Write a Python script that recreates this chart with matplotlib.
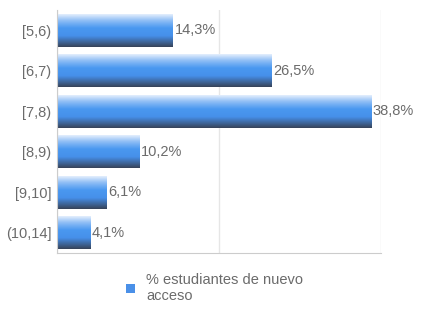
import numpy as np
import matplotlib.pyplot as plt
from matplotlib.colors import LinearSegmentedColormap
from matplotlib.patches import Rectangle

# Data
categories = ["[5,6)", "[6,7)", "[7,8)", "[8,9)", "[9,10]", "(10,14]"]
values = [14.3, 26.5, 38.8, 10.2, 6.1, 4.1]
series_name = "% estudiantes de nuevo\nacceso"

plt.rcParams['font.family'] = ['Liberation Sans', 'DejaVu Sans']
text_color = "#6b6b6b"

fig = plt.figure(figsize=(4.32, 3.24), dpi=100)
ax = fig.add_axes([0.132, 0.219, 0.75, 0.75])

# vertical gradient used to fill the bars (light top, blue middle, dark bottom)
grad = LinearSegmentedColormap.from_list("bar", [
    (0.0, "#e2eefd"),
    (0.18, "#93c0f6"),
    (0.42, "#4a98f0"),
    (0.66, "#4690ea"),
    (0.86, "#3e6497"),
    (1.0, "#37445a"),
])
gimg = np.linspace(0, 1, 64).reshape(-1, 1)

ypos = np.arange(len(categories))
bars = ax.barh(ypos, values, height=0.81, color="none", edgecolor="none", zorder=2)
for bar in bars:
    x0, y0 = bar.get_x(), bar.get_y()
    w, h = bar.get_width(), bar.get_height()
    im = ax.imshow(gimg, cmap=grad, aspect="auto", origin="upper",
                   extent=[x0, x0 + w, y0 + h, y0], zorder=2)
    im.set_clip_path(bar)

for y, v in zip(ypos, values):
    ax.text(v + 0.2, y, f"{v:.1f}%".replace(".", ","), va="center", ha="left",
            fontsize=10.5, color=text_color)

ax.set_xlim(0, 40)
ax.set_ylim(len(categories) - 0.5, -0.5)
ax.set_yticks(ypos)
ax.set_yticklabels(categories, fontsize=10.5, color=text_color)
ax.set_xticks([0, 20, 40])
ax.set_xticklabels([])
ax.tick_params(axis="both", length=0)
ax.tick_params(axis="y", pad=4)
ax.grid(axis="x", color="#e6e6e6", linewidth=1, zorder=0)
ax.set_axisbelow(True)

for side in ["top", "right"]:
    ax.spines[side].set_visible(False)
ax.spines["left"].set_color("#cccccc")
ax.spines["bottom"].set_color("#cccccc")

handle = Rectangle((0, 0), 1, 1, facecolor="#4a90e8", edgecolor="none")
fig.legend([handle], [series_name], loc="center", bbox_to_anchor=(0.497, 0.11),
           frameon=False, fontsize=10.5, labelcolor=text_color,
           handlelength=0.6, handleheight=0.6, handletextpad=0.8)

fig.savefig("out.png", dpi=100)
